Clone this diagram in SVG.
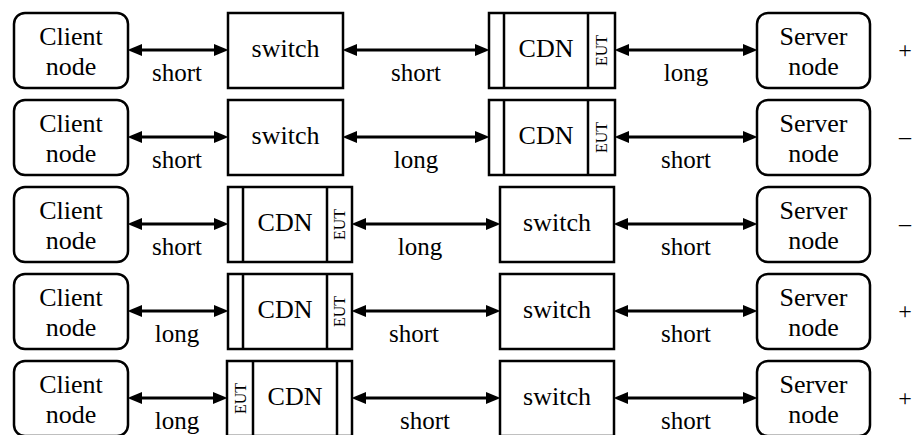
<svg xmlns="http://www.w3.org/2000/svg" width="916" height="435" viewBox="0 0 916 435">
<defs>
<marker id="ah" markerUnits="userSpaceOnUse" markerWidth="15" markerHeight="13" refX="4" refY="6.5" orient="auto-start-reverse" viewBox="0 0 15 13"><path d="M0,0.5 L14.5,6.5 L0,12.5 z" fill="#000"/></marker>
</defs>
<rect width="916" height="435" fill="#fff"/>

<g fill="#fff" stroke="#000" stroke-width="2.5">
<!-- Row 1 -->
<g id="client1"><rect x="14" y="13" width="114" height="75" rx="11"/><text font-family="Liberation Serif" font-size="26" text-anchor="middle" fill="#000" stroke="none" x="71" y="45">Client</text><text font-family="Liberation Serif" font-size="26" text-anchor="middle" fill="#000" stroke="none" x="71" y="75">node</text></g>
<g id="switch1"><rect x="228" y="13" width="115" height="75"/><text font-family="Liberation Serif" font-size="26" text-anchor="middle" fill="#000" stroke="none" x="285.5" y="57">switch</text></g>
<g id="cdn1"><rect x="489" y="13" width="126" height="75"/><line x1="504" y1="13" x2="504" y2="88"/><line x1="588" y1="13" x2="588" y2="88"/><text font-family="Liberation Serif" font-size="26" text-anchor="middle" fill="#000" stroke="none" x="546" y="57">CDN</text><text font-family="Liberation Serif" font-size="16" text-anchor="middle" fill="#000" stroke="none" transform="translate(607,50.5) rotate(-90)">EUT</text></g>
<g id="server1"><rect x="757" y="13" width="113" height="75" rx="11"/><text font-family="Liberation Serif" font-size="26" text-anchor="middle" fill="#000" stroke="none" x="813.5" y="45">Server</text><text font-family="Liberation Serif" font-size="26" text-anchor="middle" fill="#000" stroke="none" x="813.5" y="75">node</text></g>
<text id="sign1" font-family="Liberation Serif" font-size="24" text-anchor="middle" fill="#000" stroke="none" x="905" y="58">+</text>

<!-- Row 2 -->
<g id="client2"><rect x="14" y="100" width="114" height="75" rx="11"/><text font-family="Liberation Serif" font-size="26" text-anchor="middle" fill="#000" stroke="none" x="71" y="132">Client</text><text font-family="Liberation Serif" font-size="26" text-anchor="middle" fill="#000" stroke="none" x="71" y="162">node</text></g>
<g id="switch2"><rect x="228" y="100" width="115" height="75"/><text font-family="Liberation Serif" font-size="26" text-anchor="middle" fill="#000" stroke="none" x="285.5" y="144">switch</text></g>
<g id="cdn2"><rect x="489" y="100" width="126" height="75"/><line x1="504" y1="100" x2="504" y2="175"/><line x1="588" y1="100" x2="588" y2="175"/><text font-family="Liberation Serif" font-size="26" text-anchor="middle" fill="#000" stroke="none" x="546" y="144">CDN</text><text font-family="Liberation Serif" font-size="16" text-anchor="middle" fill="#000" stroke="none" transform="translate(607,137.5) rotate(-90)">EUT</text></g>
<g id="server2"><rect x="757" y="100" width="113" height="75" rx="11"/><text font-family="Liberation Serif" font-size="26" text-anchor="middle" fill="#000" stroke="none" x="813.5" y="132">Server</text><text font-family="Liberation Serif" font-size="26" text-anchor="middle" fill="#000" stroke="none" x="813.5" y="162">node</text></g>
<text id="sign2" font-family="Liberation Serif" font-size="24" text-anchor="middle" fill="#000" stroke="none" x="905" y="144">–</text>

<!-- Row 3 -->
<g id="client3"><rect x="14" y="187" width="114" height="75" rx="11"/><text font-family="Liberation Serif" font-size="26" text-anchor="middle" fill="#000" stroke="none" x="71" y="219">Client</text><text font-family="Liberation Serif" font-size="26" text-anchor="middle" fill="#000" stroke="none" x="71" y="249">node</text></g>
<g id="cdn3"><rect x="228" y="187" width="124" height="75"/><line x1="243" y1="187" x2="243" y2="262"/><line x1="327" y1="187" x2="327" y2="262"/><text font-family="Liberation Serif" font-size="26" text-anchor="middle" fill="#000" stroke="none" x="285" y="231">CDN</text><text font-family="Liberation Serif" font-size="16" text-anchor="middle" fill="#000" stroke="none" transform="translate(345,224.5) rotate(-90)">EUT</text></g>
<g id="switch3"><rect x="500" y="187" width="114" height="75"/><text font-family="Liberation Serif" font-size="26" text-anchor="middle" fill="#000" stroke="none" x="557" y="231">switch</text></g>
<g id="server3"><rect x="757" y="187" width="113" height="75" rx="11"/><text font-family="Liberation Serif" font-size="26" text-anchor="middle" fill="#000" stroke="none" x="813.5" y="219">Server</text><text font-family="Liberation Serif" font-size="26" text-anchor="middle" fill="#000" stroke="none" x="813.5" y="249">node</text></g>
<text id="sign3" font-family="Liberation Serif" font-size="24" text-anchor="middle" fill="#000" stroke="none" x="905" y="231">–</text>

<!-- Row 4 -->
<g id="client4"><rect x="14" y="274" width="114" height="75" rx="11"/><text font-family="Liberation Serif" font-size="26" text-anchor="middle" fill="#000" stroke="none" x="71" y="306">Client</text><text font-family="Liberation Serif" font-size="26" text-anchor="middle" fill="#000" stroke="none" x="71" y="336">node</text></g>
<g id="cdn4"><rect x="228" y="274" width="124" height="75"/><line x1="243" y1="274" x2="243" y2="349"/><line x1="327" y1="274" x2="327" y2="349"/><text font-family="Liberation Serif" font-size="26" text-anchor="middle" fill="#000" stroke="none" x="285" y="318">CDN</text><text font-family="Liberation Serif" font-size="16" text-anchor="middle" fill="#000" stroke="none" transform="translate(345,311.5) rotate(-90)">EUT</text></g>
<g id="switch4"><rect x="500" y="274" width="114" height="75"/><text font-family="Liberation Serif" font-size="26" text-anchor="middle" fill="#000" stroke="none" x="557" y="318">switch</text></g>
<g id="server4"><rect x="757" y="274" width="113" height="75" rx="11"/><text font-family="Liberation Serif" font-size="26" text-anchor="middle" fill="#000" stroke="none" x="813.5" y="306">Server</text><text font-family="Liberation Serif" font-size="26" text-anchor="middle" fill="#000" stroke="none" x="813.5" y="336">node</text></g>
<text id="sign4" font-family="Liberation Serif" font-size="24" text-anchor="middle" fill="#000" stroke="none" x="905" y="319">+</text>

<!-- Row 5 -->
<g id="client5"><rect x="14" y="361" width="114" height="75" rx="11"/><text font-family="Liberation Serif" font-size="26" text-anchor="middle" fill="#000" stroke="none" x="71" y="393">Client</text><text font-family="Liberation Serif" font-size="26" text-anchor="middle" fill="#000" stroke="none" x="71" y="423">node</text></g>
<g id="cdn5"><rect x="227" y="361" width="125" height="75"/><line x1="253" y1="361" x2="253" y2="436"/><line x1="337" y1="361" x2="337" y2="436"/><text font-family="Liberation Serif" font-size="26" text-anchor="middle" fill="#000" stroke="none" x="295" y="405">CDN</text><text font-family="Liberation Serif" font-size="16" text-anchor="middle" fill="#000" stroke="none" transform="translate(245.5,398.5) rotate(-90)">EUT</text></g>
<g id="switch5"><rect x="500" y="361" width="114" height="75"/><text font-family="Liberation Serif" font-size="26" text-anchor="middle" fill="#000" stroke="none" x="557" y="405">switch</text></g>
<g id="server5"><rect x="757" y="361" width="113" height="75" rx="11"/><text font-family="Liberation Serif" font-size="26" text-anchor="middle" fill="#000" stroke="none" x="813.5" y="393">Server</text><text font-family="Liberation Serif" font-size="26" text-anchor="middle" fill="#000" stroke="none" x="813.5" y="423">node</text></g>
<text id="sign5" font-family="Liberation Serif" font-size="24" text-anchor="middle" fill="#000" stroke="none" x="905" y="406">+</text>
</g>

<!-- Connectors -->
<g id="connectors" stroke="#000" stroke-width="3" marker-start="url(#ah)" marker-end="url(#ah)">
<line x1="138" y1="50" x2="218" y2="50"/>
<line x1="353" y1="50" x2="479" y2="50"/>
<line x1="625" y1="50" x2="747" y2="50"/>
<line x1="138" y1="137" x2="218" y2="137"/>
<line x1="353" y1="137" x2="479" y2="137"/>
<line x1="625" y1="137" x2="747" y2="137"/>
<line x1="138" y1="224" x2="218" y2="224"/>
<line x1="362" y1="224" x2="490" y2="224"/>
<line x1="624" y1="224" x2="747" y2="224"/>
<line x1="138" y1="311" x2="218" y2="311"/>
<line x1="362" y1="311" x2="490" y2="311"/>
<line x1="624" y1="311" x2="747" y2="311"/>
<line x1="138" y1="398" x2="217" y2="398"/>
<line x1="362" y1="398" x2="490" y2="398"/>
<line x1="624" y1="398" x2="747" y2="398"/>
</g>
<g id="labels">
<text font-family="Liberation Serif" font-size="25" text-anchor="middle" x="177" y="81">short</text><text font-family="Liberation Serif" font-size="25" text-anchor="middle" x="416" y="81">short</text><text font-family="Liberation Serif" font-size="25" text-anchor="middle" x="686" y="81">long</text>
<text font-family="Liberation Serif" font-size="25" text-anchor="middle" x="177" y="168">short</text><text font-family="Liberation Serif" font-size="25" text-anchor="middle" x="416" y="168">long</text><text font-family="Liberation Serif" font-size="25" text-anchor="middle" x="686" y="168">short</text>
<text font-family="Liberation Serif" font-size="25" text-anchor="middle" x="177" y="255">short</text><text font-family="Liberation Serif" font-size="25" text-anchor="middle" x="420" y="255">long</text><text font-family="Liberation Serif" font-size="25" text-anchor="middle" x="686" y="255">short</text>
<text font-family="Liberation Serif" font-size="25" text-anchor="middle" x="177" y="342">long</text><text font-family="Liberation Serif" font-size="25" text-anchor="middle" x="414" y="342">short</text><text font-family="Liberation Serif" font-size="25" text-anchor="middle" x="686" y="342">short</text>
<text font-family="Liberation Serif" font-size="25" text-anchor="middle" x="177" y="429">long</text><text font-family="Liberation Serif" font-size="25" text-anchor="middle" x="425" y="429">short</text><text font-family="Liberation Serif" font-size="25" text-anchor="middle" x="686" y="429">short</text>
</g>
</svg>
